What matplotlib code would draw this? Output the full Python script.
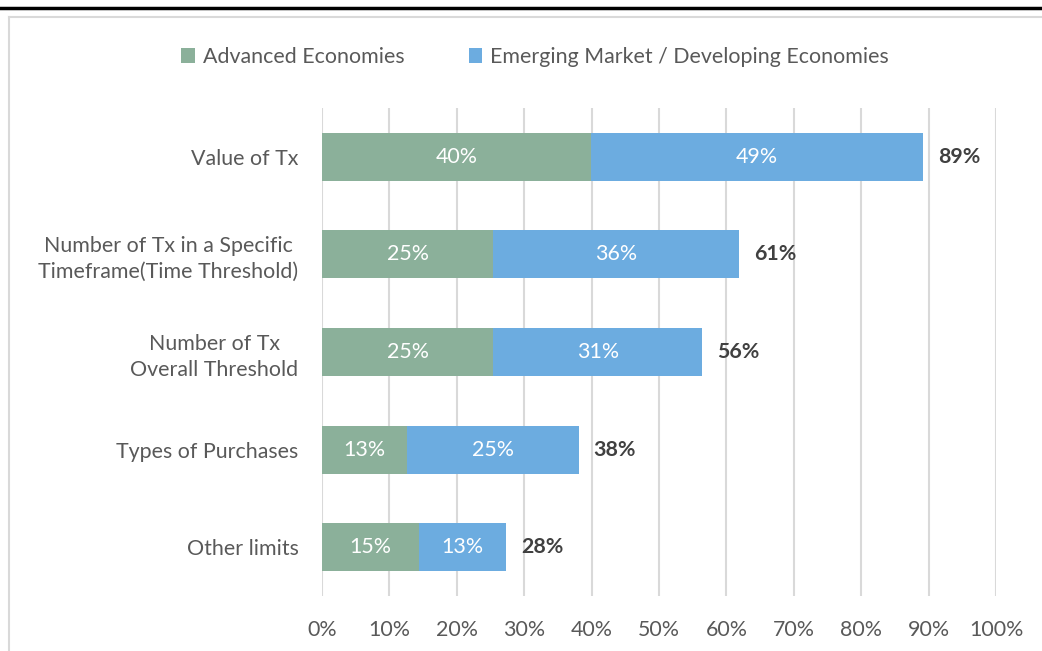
import numpy as np
import matplotlib.pyplot as plt
from matplotlib.lines import Line2D

categories = ["Value of Tx", "Number of Tx in a Specific\nTimeframe(Time Threshold)",
              "Number of Tx\nOverall Threshold", "Types of Purchases", "Other limits"]
advanced = [39.9, 25.4, 25.4, 12.6, 14.4]
emerging = [49.3, 36.5, 31.0, 25.5, 12.9]
adv_labels = ["40%", "25%", "25%", "13%", "15%"]
emg_labels = ["49%", "36%", "31%", "25%", "13%"]
total_labels = ["89%", "61%", "56%", "38%", "28%"]
series_names = ["Advanced Economies", "Emerging Market / Developing Economies"]

green = "#8BB09A"
blue = "#6CACE0"
fs = 15.4

plt.rcParams['font.family'] = ['Lato', 'DejaVu Sans']

fig = plt.figure(figsize=(10.42, 6.51), dpi=100)
W, H = 1042, 651
ax = fig.add_axes([322 / W, (H - 596) / H, 674 / W, 488 / H])

y = np.arange(len(categories))
adv = np.array(advanced)
emg = np.array(emerging)
b1 = ax.barh(y, adv, height=0.49, color=green, label=series_names[0], zorder=3)
b2 = ax.barh(y, emg, left=adv, height=0.49, color=blue, label=series_names[1], zorder=3)

for i in range(len(categories)):
    ax.text(adv[i] / 2, y[i], adv_labels[i], ha='center', va='center',
            color='white', fontsize=fs, zorder=4)
    ax.text(adv[i] + emg[i] / 2, y[i], emg_labels[i], ha='center', va='center',
            color='white', fontsize=fs, zorder=4)
    ax.text(adv[i] + emg[i] + 2.2, y[i], total_labels[i], ha='left', va='center',
            color='#404040', fontsize=fs, fontweight='bold', zorder=4)

ax.set_xlim(0, 100)
ax.set_ylim(len(categories) - 0.5, -0.5)
ax.set_xticks(np.arange(0, 101, 10))
ax.set_xticklabels([f"{v}%" for v in range(0, 101, 10)])
ax.set_yticks(y)
ax.set_yticklabels(categories, ha='right', multialignment='center', linespacing=1.35)
ax.tick_params(axis='both', length=0, labelsize=fs, labelcolor='#595959')
ax.tick_params(axis='x', pad=17)
ax.tick_params(axis='y', pad=17)
ax.xaxis.grid(True, color='#D9D9D9', linewidth=1.5, zorder=0)
for s in ax.spines.values():
    s.set_visible(False)

fig.legend(handles=[b1, b2], labels=series_names, loc='center',
           bbox_to_anchor=(535 / W, 1 - 57 / H), ncol=2, frameon=False,
           fontsize=fs, handlelength=0.65, handleheight=0.65, handletextpad=0.35,
           columnspacing=3.0, labelcolor='#595959')

# outer frame lines
fig.add_artist(Line2D([0, 1], [1 - 8 / H, 1 - 8 / H], color='black', linewidth=2.5,
                      transform=fig.transFigure))
fig.add_artist(Line2D([9 / W, 1], [1 - 17 / H, 1 - 17 / H], color='#D9D9D9', linewidth=1.5,
                      transform=fig.transFigure))
fig.add_artist(Line2D([9 / W, 9 / W], [0, 1 - 17 / H], color='#D9D9D9', linewidth=1.5,
                      transform=fig.transFigure))

fig.savefig("out.png", dpi=100)
